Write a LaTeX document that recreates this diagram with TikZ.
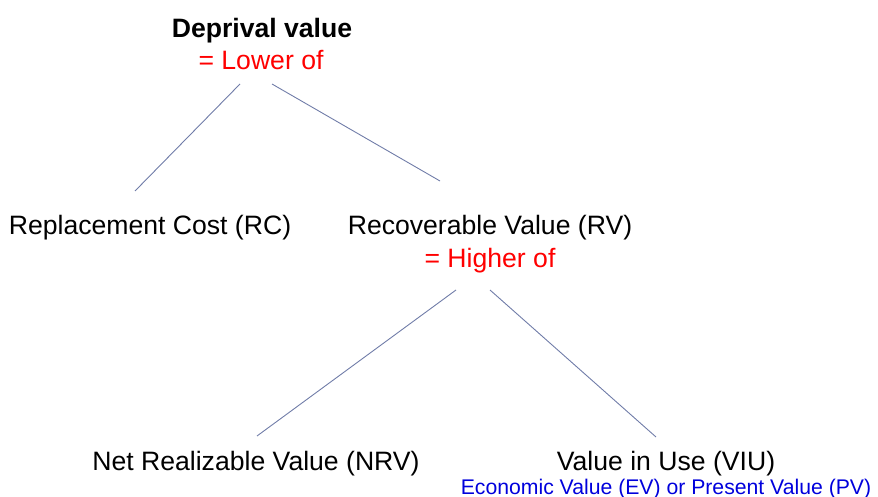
\documentclass[tikz,border=0pt]{standalone}
\usepackage{fontspec}
\setmainfont{Liberation Sans}
\definecolor{edgeblue}{RGB}{112,124,168}
\definecolor{notered}{RGB}{255,0,0}
\definecolor{noteblue}{RGB}{0,0,220}
\tikzset{
  lbl/.style={anchor=base, inner sep=0pt, font=\fontsize{26.6}{30}\selectfont},
  head/.style={lbl, font=\fontsize{26.6}{30}\selectfont\bfseries},
  rule/.style={lbl, text=notered},
  sub/.style={anchor=base, inner sep=0pt, text=noteblue, font=\fontsize{21.2}{24}\selectfont},
  edge/.style={draw=edgeblue, line width=0.9pt},
}
\begin{document}
\begin{tikzpicture}[x=1pt, y=-1pt]
  \useasboundingbox (0,0) rectangle (878,497);

  % labels
  \node[head] (dv)    at (262,38)  {Deprival value};
  \node[rule] (lower) at (261,70)  {= Lower of};
  \node[lbl]  (rc)    at (150,234) {Replacement Cost (RC)};
  \node[lbl]  (rv)    at (490,234) {Recoverable Value (RV)};
  \node[rule] (higher) at (490,267) {= Higher of};
  \node[lbl]  (nrv)   at (256,470) {Net Realizable Value (NRV)};
  \node[lbl]  (viu)   at (666,470) {Value in Use (VIU)};
  \node[sub]  (ev)    at (666,494) {Economic Value (EV) or Present Value (PV)};

  % end points of the tree branches
  \coordinate (lower-l)  at (240,84);
  \coordinate (lower-r)  at (272,84);
  \coordinate (rc-top)   at (135,191);
  \coordinate (rv-top)   at (440,181);
  \coordinate (higher-l) at (456,290);
  \coordinate (higher-r) at (490,290);
  \coordinate (nrv-top)  at (257,436);
  \coordinate (viu-top)  at (656,437);

  % branches
  \draw[edge] (lower-l) -- (rc-top);
  \draw[edge] (lower-r) -- (rv-top);
  \draw[edge] (higher-l) -- (nrv-top);
  \draw[edge] (higher-r) -- (viu-top);
\end{tikzpicture}
\end{document}
